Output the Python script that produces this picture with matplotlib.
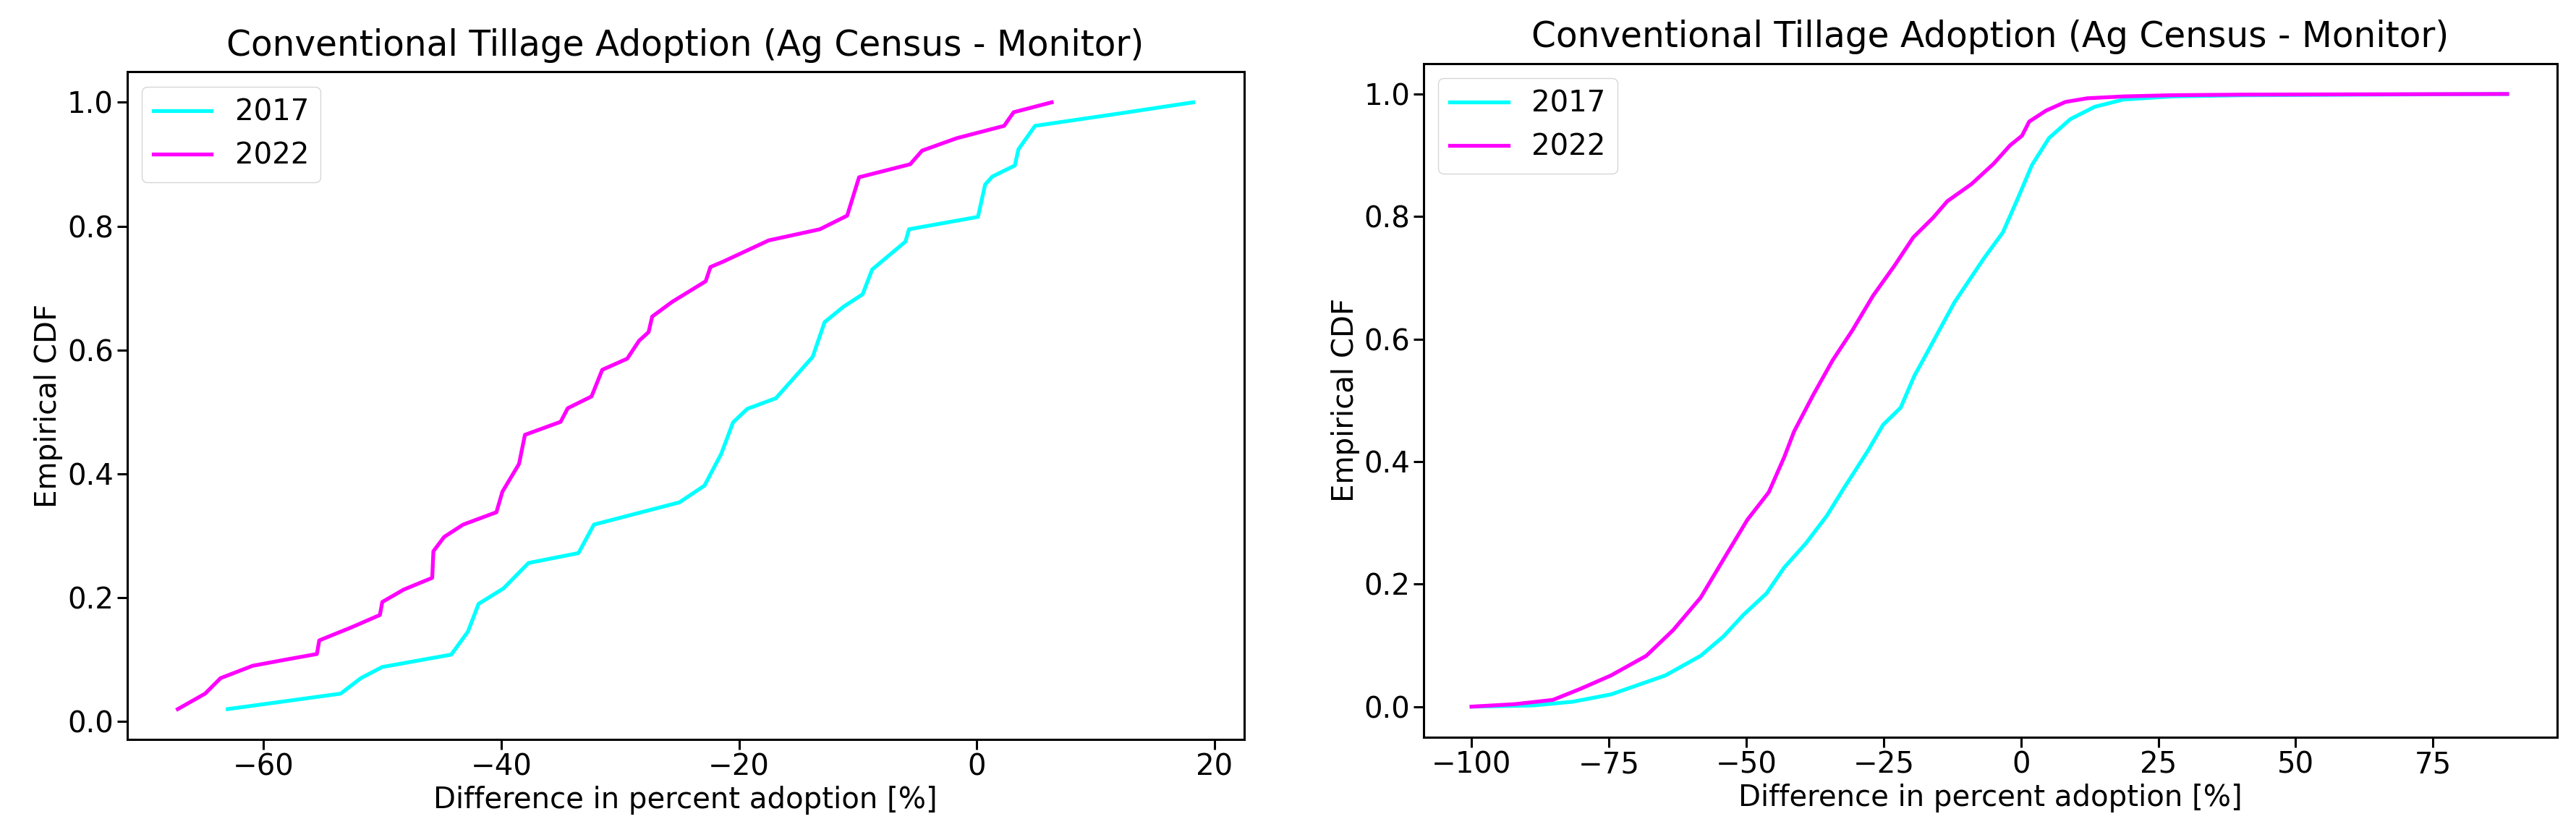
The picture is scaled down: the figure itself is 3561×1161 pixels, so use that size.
import matplotlib
matplotlib.use("Agg")
import matplotlib.pyplot as plt

# left panel: county level differences (few points)
left_x_2017 = [-63.0, -53.5, -51.8, -50.0, -44.2, -42.8, -41.9, -39.8, -37.7, -33.5, -32.2, -25.0,
               -22.9, -22.3, -21.5, -20.5, -19.3, -16.9, -15.6, -13.8, -12.8, -11.2, -9.6, -8.8,
               -6.0, -5.7, 0.1, 0.7, 1.3, 3.2, 3.5, 4.9, 12.0, 18.2]
left_y_2017 = [0.020, 0.045, 0.070, 0.088, 0.108, 0.145, 0.190, 0.215, 0.256, 0.272, 0.318, 0.354,
               0.381, 0.403, 0.432, 0.483, 0.505, 0.522, 0.550, 0.589, 0.645, 0.670, 0.690, 0.730,
               0.775, 0.795, 0.815, 0.867, 0.880, 0.898, 0.924, 0.962, 0.982, 1.000]

left_x_2022 = [-67.2, -64.9, -63.6, -60.9, -58.1, -55.5, -55.3, -52.6, -50.2, -50.0, -48.2, -45.8,
               -45.7, -44.8, -43.2, -40.4, -39.9, -38.5, -38.0, -35.0, -34.4, -32.4, -31.5, -29.4,
               -28.4, -27.6, -27.3, -25.6, -22.8, -22.4, -21.3, -17.5, -13.2, -10.9, -9.9, -5.6,
               -4.6, -1.7, 2.3, 3.1, 6.3]
left_y_2022 = [0.020, 0.045, 0.070, 0.090, 0.100, 0.109, 0.131, 0.152, 0.172, 0.193, 0.213, 0.232,
               0.275, 0.298, 0.318, 0.338, 0.371, 0.416, 0.463, 0.484, 0.506, 0.525, 0.568, 0.586,
               0.615, 0.629, 0.654, 0.678, 0.711, 0.734, 0.743, 0.777, 0.795, 0.817, 0.879, 0.900,
               0.922, 0.942, 0.962, 0.984, 1.000]

# right panel: field level differences (dense, smooth)
right_x_2017 = [-100, -88.7, -81.6, -74.6, -64.7, -58.3, -54.1, -50.5, -46.3, -43.1, -39.2, -35.3,
                -32.2, -27.9, -25.1, -21.9, -19.4, -17.8, -12.1, -6.8, -3.3, -0.6, 2.0, 5.1, 9.0,
                13.4, 18.7, 27.5, 40.7, 88.5]
right_y_2017 = [0.000, 0.002, 0.008, 0.020, 0.051, 0.083, 0.115, 0.150, 0.185, 0.227, 0.266, 0.312,
                0.357, 0.417, 0.460, 0.488, 0.540, 0.566, 0.660, 0.731, 0.774, 0.829, 0.884, 0.928,
                0.959, 0.979, 0.991, 0.996, 0.998, 1.000]

right_x_2022 = [-100, -92.2, -85.2, -80.2, -74.6, -68.2, -63.3, -58.3, -54.1, -49.8, -45.9, -43.1,
                -41.3, -37.8, -34.3, -30.7, -26.9, -23.0, -19.6, -16.0, -13.4, -9.0, -5.0, -2.0,
                0.2, 1.5, 4.6, 8.1, 12.1, 18.7, 27.5, 40.7, 88.5]
right_y_2022 = [0.000, 0.004, 0.011, 0.029, 0.051, 0.083, 0.125, 0.178, 0.241, 0.305, 0.350, 0.407,
                0.449, 0.509, 0.565, 0.614, 0.671, 0.720, 0.766, 0.798, 0.825, 0.853, 0.886, 0.916,
                0.932, 0.955, 0.973, 0.987, 0.993, 0.996, 0.998, 0.999, 1.000]

title = "Conventional Tillage Adoption (Ag Census - Monitor)"
fs = 29

fig = plt.figure(figsize=(35.61, 11.61), dpi=100)
ax1 = fig.add_axes([0.0493, 0.1197, 0.4336, 0.7946])
ax2 = fig.add_axes([0.5527, 0.1223, 0.4400, 0.8023])

panels = [(ax1, left_x_2017, left_y_2017, left_x_2022, left_y_2022),
          (ax2, right_x_2017, right_y_2017, right_x_2022, right_y_2022)]

for ax, x17, y17, x22, y22 in panels:
    ax.plot(x17, y17, color="cyan", lw=3.8, label="2017")
    ax.plot(x22, y22, color="magenta", lw=3.8, label="2022")
    ax.set_title(title, fontsize=35, pad=16)
    ax.set_xlabel("Difference in percent adoption [%]", fontsize=fs)
    ax.set_ylabel("Empirical CDF", fontsize=fs)
    ax.tick_params(labelsize=fs, length=10, width=2.2)
    for s in ax.spines.values():
        s.set_linewidth(2.2)
    ax.legend(loc="upper left", fontsize=fs, handlelength=2.0)

ax2.set_xlim(-108.7, 97.6)

fig.savefig("out.png", dpi=100)
